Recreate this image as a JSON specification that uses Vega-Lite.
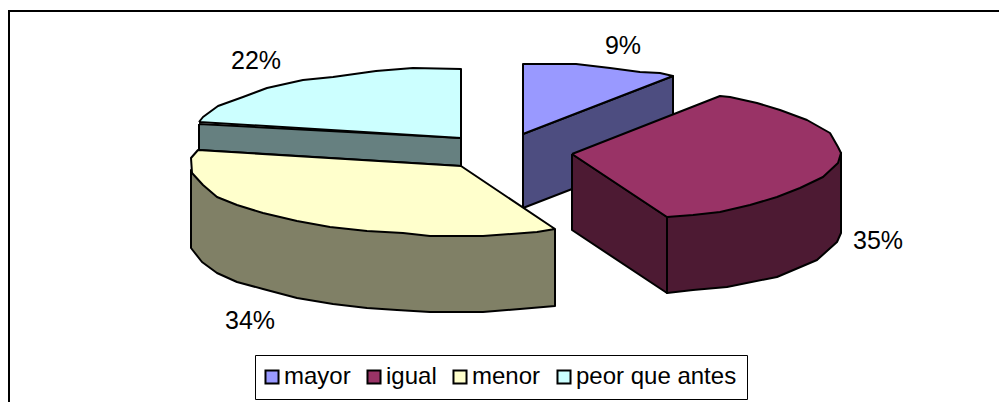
{"$schema":"https://vega.github.io/schema/vega-lite/v6.json","width":999,"height":402,"autosize":{"type":"none"},"padding":0,"background":"white","view":{"stroke":null},
"datasets":{
"caras":[
{"serie":"peor lateral","i":1,"h":199,"v":124},{"serie":"peor lateral","i":2,"h":461,"v":138},{"serie":"peor lateral","i":3,"h":461,"v":166},{"serie":"peor lateral","i":4,"h":199,"v":150},{"serie":"peor lateral","i":5,"h":199,"v":124},
{"serie":"mayor lateral","i":6,"h":523,"v":134},{"serie":"mayor lateral","i":7,"h":673,"v":76},{"serie":"mayor lateral","i":8,"h":673,"v":150},{"serie":"mayor lateral","i":9,"h":523,"v":208},{"serie":"mayor lateral","i":10,"h":523,"v":134},
{"serie":"menor lateral","i":11,"h":555,"v":229},{"serie":"menor lateral","i":12,"h":555,"v":306},{"serie":"menor lateral","i":13,"h":520,"v":309},{"serie":"menor lateral","i":14,"h":483,"v":312},{"serie":"menor lateral","i":15,"h":430,"v":312},{"serie":"menor lateral","i":16,"h":397,"v":310},{"serie":"menor lateral","i":17,"h":367,"v":308},{"serie":"menor lateral","i":18,"h":333,"v":304},{"serie":"menor lateral","i":19,"h":297,"v":298},{"serie":"menor lateral","i":20,"h":263,"v":289},{"serie":"menor lateral","i":21,"h":237,"v":282},{"serie":"menor lateral","i":22,"h":217,"v":273},{"serie":"menor lateral","i":23,"h":202,"v":262},{"serie":"menor lateral","i":24,"h":191,"v":248},{"serie":"menor lateral","i":25,"h":191,"v":170},{"serie":"menor lateral","i":26,"h":300,"v":190},{"serie":"menor lateral","i":27,"h":555,"v":229},
{"serie":"igual plano","i":30,"h":572,"v":154},{"serie":"igual plano","i":31,"h":667,"v":217},{"serie":"igual plano","i":32,"h":667,"v":293},{"serie":"igual plano","i":33,"h":572,"v":230},{"serie":"igual plano","i":34,"h":572,"v":154},
{"serie":"igual curva","i":40,"h":667,"v":217},{"serie":"igual curva","i":41,"h":760,"v":190},{"serie":"igual curva","i":42,"h":841,"v":153},{"serie":"igual curva","i":43,"h":841,"v":233},{"serie":"igual curva","i":44,"h":837,"v":242},{"serie":"igual curva","i":45,"h":817,"v":260},{"serie":"igual curva","i":46,"h":777,"v":277},{"serie":"igual curva","i":47,"h":727,"v":287},{"serie":"igual curva","i":48,"h":693,"v":290},{"serie":"igual curva","i":49,"h":667,"v":293},{"serie":"igual curva","i":50,"h":667,"v":217}
],
"tapas":[
{"serie":"peor que antes","i":1,"h":199,"v":122},{"serie":"peor que antes","i":2,"h":203,"v":117},{"serie":"peor que antes","i":3,"h":218,"v":106},{"serie":"peor que antes","i":4,"h":243,"v":97},{"serie":"peor que antes","i":5,"h":267,"v":88},{"serie":"peor que antes","i":6,"h":303,"v":80},{"serie":"peor que antes","i":7,"h":333,"v":77},{"serie":"peor que antes","i":8,"h":376,"v":71},{"serie":"peor que antes","i":9,"h":413,"v":68},{"serie":"peor que antes","i":10,"h":461,"v":69},{"serie":"peor que antes","i":11,"h":461,"v":138},{"serie":"peor que antes","i":12,"h":199,"v":122},
{"serie":"mayor","i":20,"h":523,"v":134},{"serie":"mayor","i":21,"h":523,"v":64},{"serie":"mayor","i":22,"h":576,"v":64},{"serie":"mayor","i":23,"h":610,"v":68},{"serie":"mayor","i":24,"h":640,"v":72},{"serie":"mayor","i":25,"h":660,"v":73},{"serie":"mayor","i":26,"h":673,"v":76},{"serie":"mayor","i":27,"h":523,"v":134},
{"serie":"menor","i":30,"h":461,"v":166},{"serie":"menor","i":31,"h":555,"v":229},{"serie":"menor","i":32,"h":537,"v":232},{"serie":"menor","i":33,"h":483,"v":236},{"serie":"menor","i":34,"h":430,"v":236},{"serie":"menor","i":35,"h":403,"v":233},{"serie":"menor","i":36,"h":367,"v":231},{"serie":"menor","i":37,"h":330,"v":227},{"serie":"menor","i":38,"h":297,"v":221},{"serie":"menor","i":39,"h":263,"v":213},{"serie":"menor","i":40,"h":237,"v":205},{"serie":"menor","i":41,"h":217,"v":197},{"serie":"menor","i":42,"h":203,"v":185},{"serie":"menor","i":43,"h":192,"v":173},{"serie":"menor","i":44,"h":191,"v":158},{"serie":"menor","i":45,"h":198,"v":150},{"serie":"menor","i":46,"h":461,"v":166},
{"serie":"igual","i":50,"h":572,"v":154},{"serie":"igual","i":51,"h":720,"v":96},{"serie":"igual","i":52,"h":730,"v":97},{"serie":"igual","i":53,"h":757,"v":103},{"serie":"igual","i":54,"h":780,"v":110},{"serie":"igual","i":55,"h":807,"v":120},{"serie":"igual","i":56,"h":830,"v":133},{"serie":"igual","i":57,"h":838,"v":147},{"serie":"igual","i":58,"h":841,"v":153},{"serie":"igual","i":59,"h":838,"v":163},{"serie":"igual","i":60,"h":823,"v":177},{"serie":"igual","i":61,"h":800,"v":188},{"serie":"igual","i":62,"h":777,"v":197},{"serie":"igual","i":63,"h":750,"v":205},{"serie":"igual","i":64,"h":720,"v":212},{"serie":"igual","i":65,"h":693,"v":215},{"serie":"igual","i":66,"h":667,"v":217},{"serie":"igual","i":67,"h":572,"v":154}
],
"marco":[{"i":1,"h":9,"v":402},{"i":2,"h":9,"v":11},{"i":3,"h":999,"v":11}],
"valores":[{"serie":"mayor","valor":0.09,"h":623,"v":46},{"serie":"igual","valor":0.35,"h":878,"v":241},{"serie":"menor","valor":0.34,"h":250,"v":321},{"serie":"peor que antes","valor":0.22,"h":256,"v":61}]
},
"encoding":{
"x":{"field":"h","type":"quantitative","scale":{"domain":[0,999],"nice":false,"zero":false},"axis":null},
"y":{"field":"v","type":"quantitative","scale":{"domain":[402,0],"nice":false,"zero":false},"axis":null}
},
"layer":[
{"data":{"name":"marco"},"mark":{"type":"line","stroke":"black","strokeWidth":2,"clip":false},"encoding":{"order":{"field":"i","type":"quantitative"}}},
{"data":{"name":"caras"},"mark":{"type":"line","stroke":"black","strokeWidth":2,"strokeJoin":"round"},"encoding":{"order":{"field":"i","type":"quantitative"},"fill":{"field":"serie","type":"nominal","legend":null,"scale":{"domain":["peor lateral","mayor lateral","menor lateral","igual plano","igual curva"],"range":["#668080","#4d4d80","#808066","#4d1a33","#4d1a33"]}}}},
{"data":{"name":"tapas"},"mark":{"type":"line","stroke":"black","strokeWidth":2,"strokeJoin":"round"},"encoding":{"order":{"field":"i","type":"quantitative"},"fill":{"field":"serie","type":"nominal","sort":null,"scale":{"domain":["mayor","igual","menor","peor que antes"],"range":["#9999ff","#993366","#ffffcc","#ccffff"]},"legend":{"title":null,"orient":"none","legendX":255,"legendY":355,"direction":"horizontal","columns":4,"fillColor":"white","strokeColor":"black","padding":10,"symbolType":"square","symbolSize":170,"symbolStrokeColor":"black","symbolStrokeWidth":2,"symbolOffset":-5,"labelFont":"Liberation Sans","labelFontSize":24,"labelColor":"black","labelLimit":400,"columnPadding":12,"labelOffset":0}}}},
{"data":{"name":"valores"},"mark":{"type":"text","font":"Liberation Sans","fontSize":25,"color":"black","align":"center","baseline":"middle"},"encoding":{"text":{"field":"valor","type":"quantitative","format":".0%"}}}
],
"resolve":{"scale":{"fill":"independent"}}
}
